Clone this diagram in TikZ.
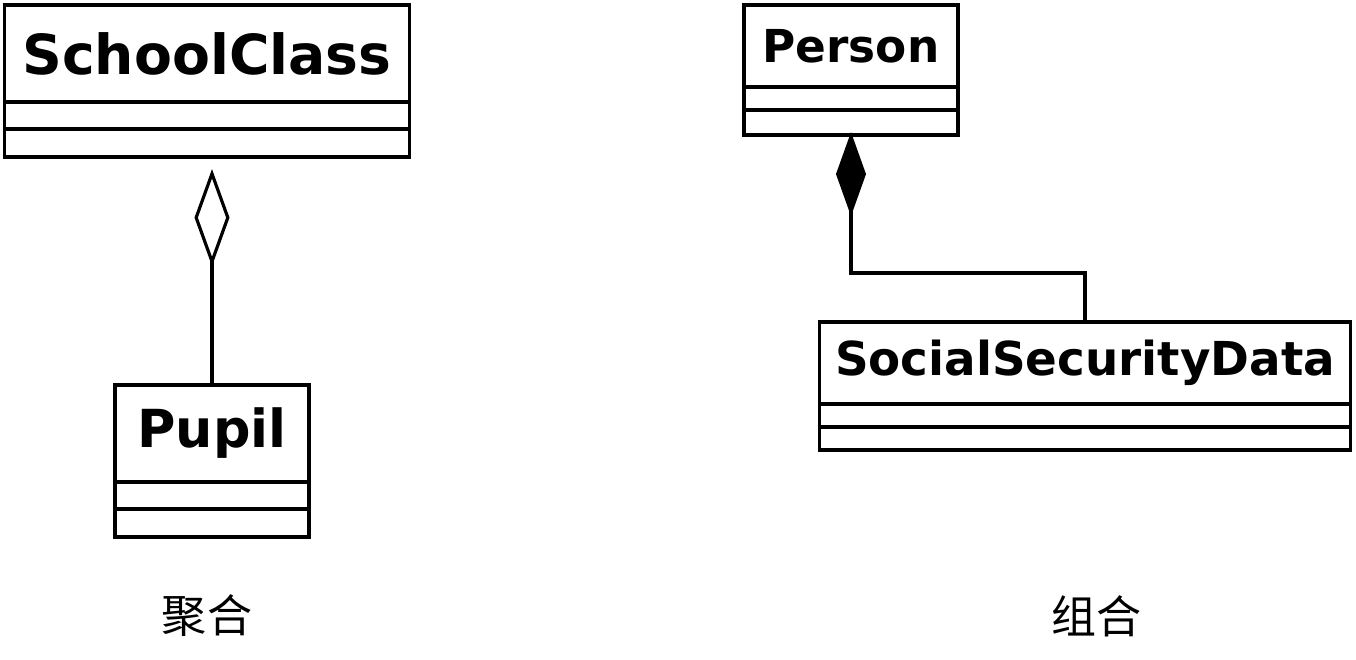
\documentclass[tikz,border=0pt]{standalone}
\usepackage{fontspec}
\newfontfamily\umlfont{DejaVu Sans}
\newfontfamily\cjk{Noto Sans CJK SC}
\usetikzlibrary{positioning,arrows.meta}
\begin{document}
\begin{tikzpicture}
    [%%%%%%%%%%%%%%%%%%%%%%%%%%%%%%
        x=0.01cm, y=-0.01cm,
        namebox/.style={rectangle,draw=black,line width=0.9pt,inner sep=0pt,outer sep=0pt,font=\umlfont\bfseries},
        partbox/.style={rectangle,draw=black,line width=0.9pt,inner sep=0pt,outer sep=0pt},
        link/.style={draw=black,line width=0.9pt},
        caption/.style={font=\cjk\fontsize{12.8}{15}\selectfont},
    ]%%%%%%%%%%%%%%%%%%%%%%%%%%%%%%
\useasboundingbox (0,0) rectangle (1356,660);

% aggregation
\node[namebox, minimum width=4.04cm, minimum height=0.97cm] (school) at (207,53.5) {\fontsize{15.7}{18}\selectfont SchoolClass};
\node[partbox, minimum width=4.04cm, minimum height=0.27cm, below=0pt of school] (school1) {};
\node[partbox, minimum width=4.04cm, minimum height=0.28cm, below=0pt of school1] (school2) {};

\node[namebox, minimum width=1.94cm, minimum height=0.97cm] (pupil) at (212,433.5) {\fontsize{14.9}{17}\selectfont Pupil};
\node[partbox, minimum width=1.94cm, minimum height=0.27cm, below=0pt of pupil] (pupil1) {};
\node[partbox, minimum width=1.94cm, minimum height=0.28cm, below=0pt of pupil1] (pupil2) {};

\draw[link, -{Diamond[open,length=0.97cm,width=0.35cm]}, shorten >=0.12cm] (pupil.north) -- (pupil.north |- school2.south);

% composition
\node[namebox, minimum width=2.14cm, minimum height=0.82cm] (person) at (851,46) {\fontsize{12.9}{15}\selectfont Person};
\node[partbox, minimum width=2.14cm, minimum height=0.23cm, below=0pt of person] (person1) {};
\node[partbox, minimum width=2.14cm, minimum height=0.25cm, below=0pt of person1] (person2) {};

\node[namebox, minimum width=5.30cm, minimum height=0.82cm] (social) at (1085,363) {\fontsize{13.3}{16}\selectfont SocialSecurityData};
\node[partbox, minimum width=5.30cm, minimum height=0.23cm, below=0pt of social] (social1) {};
\node[partbox, minimum width=5.30cm, minimum height=0.23cm, below=0pt of social1] (social2) {};

\draw[link, -{Diamond[length=0.84cm,width=0.30cm]}, shorten >=-0.03cm] (social.north) -- ++(0,-49) -| (person2.south);

% captions
\node[caption] (agg) at (207,616) {聚合};
\node[caption] (comp) at (1097,616) {组合};
\end{tikzpicture}
\end{document}
